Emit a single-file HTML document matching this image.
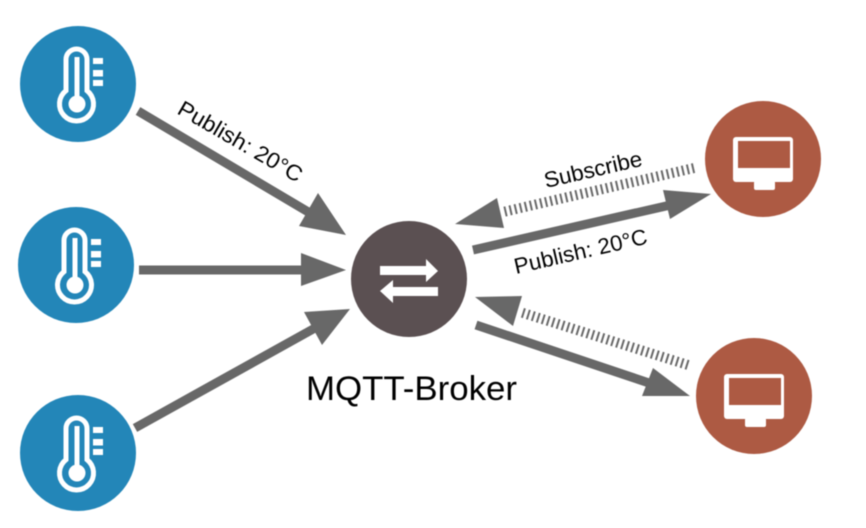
<!DOCTYPE html>
<html><head><meta charset="utf-8"><style>
html,body{margin:0;padding:0;background:#fff}
svg{display:block;filter:blur(.6px)}
text{font-family:"Liberation Sans",sans-serif;fill:#000}
</style></head><body>
<svg width="866" height="528" viewBox="0 0 866 528" xmlns="http://www.w3.org/2000/svg">
<defs>
<g id="t">
<circle r="58" fill="#2386b8"/>
<path d="M-12,-24.500a10.500,10.500 0 0 1 21,0V6.600a17,17 0 1 1 -21,0Z" fill="none" stroke="#fff" stroke-width="5"/>
<rect x="-3.500" y="-27" width="5" height="40" fill="#fff"/>
<circle cx="-1" cy="20" r="8.500" fill="#fff"/>
<rect x="15" y="-26" width="10" height="6" fill="#fff"/>
<rect x="15" y="-14" width="10" height="6.500" fill="#fff"/>
<rect x="15" y="-4" width="10" height="6" fill="#fff"/>
</g>
<g id="m">
<circle r="58" fill="#ad5a43"/>
<rect x="-30" y="-22" width="60" height="45" rx="3" fill="#fff"/>
<rect x="-25" y="-18" width="52" height="27" fill="#ad5a43"/>
<rect x="-9" y="22" width="21" height="9" rx="2" fill="#fff"/>
</g>
</defs>

<use href="#t" x="78" y="84"/>
<use href="#t" x="76" y="265"/>
<use href="#t" x="78" y="453"/>
<use href="#m" x="763" y="159"/>
<use href="#m" x="754" y="396"/>

<circle cx="409" cy="279" r="58" fill="#5b5052"/>
<path d="M380,266H426V259L438,271L426,282V275H380Z" fill="#fff"/>
<path d="M438,287H393V280L380,291L393,303V296H438Z" fill="#fff"/>

<g fill="#686868" stroke="none">
<line x1="138" y1="111" x2="310" y2="213" stroke="#686868" stroke-width="9"/>
<polygon points="346,235 299,226 318,193"/>
<line x1="139" y1="270" x2="305" y2="270" stroke="#686868" stroke-width="9"/>
<polygon points="346,270 301,253 301,286"/>
<line x1="135" y1="428" x2="315" y2="328" stroke="#686868" stroke-width="9"/>
<polygon points="350,309 322,345 304,312"/>
<line x1="473" y1="250" x2="675" y2="204" stroke="#686868" stroke-width="9"/>
<polygon points="711,194 670,219 663,190"/>
<polygon points="455,224 497,198 504,228"/>
<line x1="694" y1="168" x2="503" y2="212" stroke="#686868" stroke-width="10" stroke-dasharray="2 3.200"/>
<polygon points="475,297 522,296 513,326"/>
<line x1="688" y1="365" x2="520" y2="312" stroke="#686868" stroke-width="10" stroke-dasharray="2 3.200"/>
<line x1="476" y1="325" x2="655" y2="385" stroke="#686868" stroke-width="9"/>
<polygon points="690,396 642,396 653,368"/>
</g>

<text transform="translate(176,113) rotate(30)" font-size="22" textLength="140" lengthAdjust="spacingAndGlyphs">Publish: 20°C</text>
<text transform="translate(546,188) rotate(-13)" font-size="22" textLength="100" lengthAdjust="spacingAndGlyphs">Subscribe</text>
<text transform="translate(516,274) rotate(-13)" font-size="22" textLength="136" lengthAdjust="spacingAndGlyphs">Publish: 20°C</text>
<text x="306" y="400" font-size="34" textLength="211" lengthAdjust="spacingAndGlyphs">MQTT-Broker</text>
</svg>
</body></html>
